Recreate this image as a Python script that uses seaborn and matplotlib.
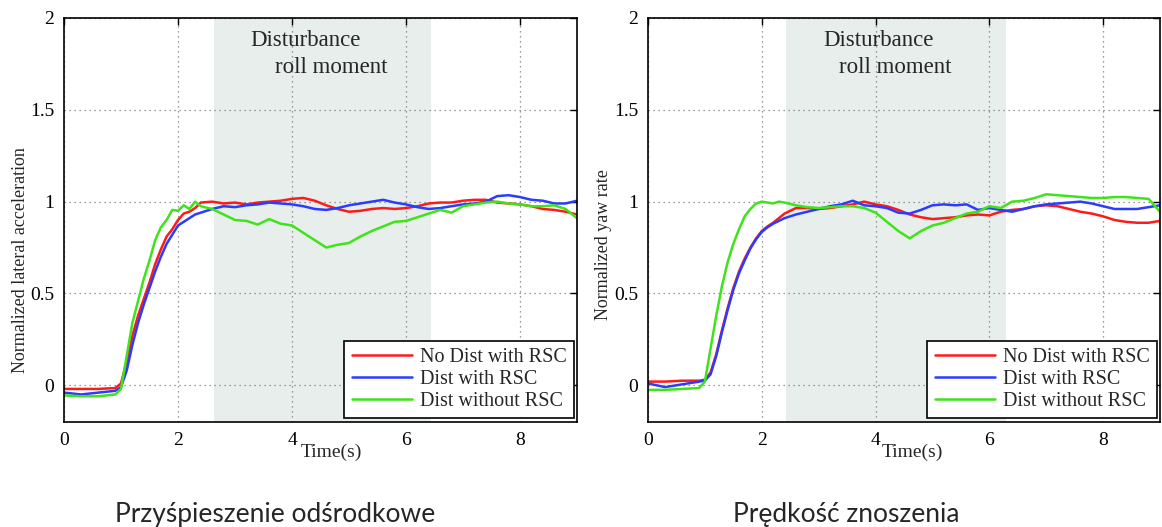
import numpy as np
import pandas as pd
import matplotlib
matplotlib.use("Agg")
import matplotlib.pyplot as plt
from matplotlib.lines import Line2D
import seaborn as sns

# ---------------- data ----------------
T = [0, 0.3, 0.6, 0.9,
     1.0, 1.1, 1.2, 1.3, 1.4, 1.5, 1.6, 1.7, 1.8, 1.9, 2.0, 2.1, 2.2, 2.3, 2.4,
     2.6, 2.8, 3.0, 3.2, 3.4, 3.6, 3.8, 4.0, 4.2, 4.4, 4.6, 4.8, 5.0, 5.2, 5.4,
     5.6, 5.8, 6.0, 6.2, 6.4, 6.6, 6.8, 7.0, 7.2, 7.4, 7.6, 7.8, 8.0, 8.2, 8.4,
     8.6, 8.8, 9.0]

SERIES = ["No Dist with RSC", "Dist with RSC", "Dist without RSC"]

# Left panel: normalized lateral acceleration
lat_nodist_rsc = [-0.02, -0.02, -0.02, -0.015,
                  0.01, 0.13, 0.27, 0.38, 0.47, 0.56, 0.66, 0.74, 0.81, 0.85, 0.90, 0.935, 0.945, 0.965, 0.995,
                  1.0, 0.99, 0.995, 0.985, 0.995, 1.0, 1.005, 1.015, 1.02, 1.005, 0.98, 0.96, 0.945, 0.95, 0.96,
                  0.965, 0.96, 0.965, 0.975, 0.99, 0.995, 0.995, 1.005, 1.01, 1.01, 0.995, 0.99, 0.985, 0.975, 0.96,
                  0.955, 0.945, 0.93]
lat_dist_rsc = [-0.04, -0.05, -0.04, -0.03,
                -0.01, 0.08, 0.22, 0.34, 0.44, 0.53, 0.62, 0.70, 0.77, 0.82, 0.87, 0.89, 0.91, 0.93, 0.94,
                0.96, 0.975, 0.97, 0.98, 0.985, 0.995, 0.99, 0.985, 0.975, 0.96, 0.955, 0.965, 0.98, 0.99, 1.0,
                1.01, 0.995, 0.985, 0.97, 0.96, 0.965, 0.975, 0.985, 0.99, 1.0, 1.03, 1.035, 1.025, 1.01, 1.005,
                0.99, 0.99, 1.005]
lat_dist_norsc = [-0.055, -0.06, -0.06, -0.05,
                  -0.02, 0.16, 0.34, 0.46, 0.58, 0.68, 0.79, 0.86, 0.90, 0.955, 0.95, 0.98, 0.96, 1.0, 0.975,
                  0.96, 0.93, 0.90, 0.895, 0.875, 0.905, 0.88, 0.87, 0.83, 0.79, 0.75, 0.765, 0.775, 0.81, 0.84,
                  0.865, 0.89, 0.895, 0.915, 0.935, 0.955, 0.94, 0.975, 0.985, 0.995, 1.0, 0.99, 0.985, 0.975, 0.975,
                  0.98, 0.96, 0.91]

# Right panel: normalized yaw rate
yaw_nodist_rsc = [0.02, 0.02, 0.025, 0.025,
                  0.03, 0.07, 0.17, 0.30, 0.42, 0.53, 0.62, 0.69, 0.75, 0.80, 0.84, 0.865, 0.885, 0.91, 0.935,
                  0.965, 0.965, 0.96, 0.965, 0.975, 0.985, 1.0, 0.985, 0.975, 0.955, 0.93, 0.915, 0.905, 0.91, 0.915,
                  0.925, 0.93, 0.925, 0.945, 0.955, 0.96, 0.975, 0.98, 0.975, 0.96, 0.945, 0.935, 0.92, 0.90, 0.89,
                  0.885, 0.885, 0.895]
yaw_dist_rsc = [0.01, -0.01, 0.005, 0.02,
                0.025, 0.06, 0.16, 0.29, 0.41, 0.52, 0.61, 0.68, 0.745, 0.795, 0.835, 0.86, 0.88, 0.895, 0.91,
                0.93, 0.945, 0.96, 0.975, 0.985, 1.005, 0.98, 0.975, 0.965, 0.94, 0.935, 0.955, 0.98, 0.985, 0.98,
                0.985, 0.955, 0.965, 0.955, 0.945, 0.96, 0.975, 0.985, 0.99, 0.995, 1.0, 0.99, 0.975, 0.96, 0.96,
                0.96, 0.97, 0.98]
yaw_dist_norsc = [-0.025, -0.025, -0.02, -0.015,
                  0.02, 0.20, 0.38, 0.54, 0.67, 0.77, 0.85, 0.92, 0.96, 0.99, 1.0, 0.995, 0.99, 1.0, 0.995,
                  0.98, 0.97, 0.965, 0.97, 0.975, 0.975, 0.965, 0.94, 0.89, 0.84, 0.80, 0.84, 0.87, 0.885, 0.91,
                  0.935, 0.945, 0.975, 0.965, 1.0, 1.005, 1.02, 1.04, 1.035, 1.03, 1.025, 1.02, 1.02, 1.025, 1.025,
                  1.02, 1.015, 0.945]

Y_LABELS = ["Normalized lateral acceleration", "Normalized yaw rate"]
CAPTIONS = ["Przyśpieszenie odśrodkowe", "Prędkość znoszenia"]
DIST_SPANS = [(2.64, 6.44), (2.43, 6.30)]
X_TICKS = [0, 2, 4, 6, 8]
Y_TICKS = [0, 0.5, 1, 1.5, 2]
Y_TICKLABELS = ["0", "0.5", "1", "1.5", "2"]

# ---------------- style ----------------
sns.set_theme(style="white")
plt.rcParams["font.family"] = ["Liberation Serif", "DejaVu Serif"]

palette = {SERIES[0]: "#ff1a1a", SERIES[1]: "#2a3cff", SERIES[2]: "#3fe31a"}

def long_df(vals):
    rows = []
    for name, v in zip(SERIES, vals):
        rows.append(pd.DataFrame({"t": T, "v": v, "series": name}))
    return pd.concat(rows, ignore_index=True)

panels = [long_df([lat_nodist_rsc, lat_dist_rsc, lat_dist_norsc]),
          long_df([yaw_nodist_rsc, yaw_dist_rsc, yaw_dist_norsc])]

fig = plt.figure(figsize=(11.62, 5.27), dpi=100)
axes_pos = [[64 / 1162, 1 - 422 / 527, 513 / 1162, 404 / 527],
            [648 / 1162, 1 - 422 / 527, 512 / 1162, 404 / 527]]
text_pos = [((4.24, 1.88), (4.68, 1.73)), ((4.05, 1.88), (4.35, 1.73))]
ylab_pos = [(21 / 1162, 1 - 260 / 527), (603 / 1162, 1 - 245 / 527)]
time_pos = [331 / 1162, 912 / 1162]
cap_x = [115 / 1162, 733 / 1162]

for i, df in enumerate(panels):
    ax = fig.add_axes(axes_pos[i])
    ax.axvspan(*DIST_SPANS[i], color="#e8eeeb", zorder=0, lw=0)
    sns.lineplot(data=df, x="t", y="v", hue="series", hue_order=SERIES,
                 palette=palette, ax=ax, linewidth=1.8, estimator=None,
                 legend=False, zorder=3)
    ax.set_xlim(0, 9)
    ax.set_ylim(-0.2, 2)
    ax.set_xticks(X_TICKS)
    ax.set_yticks(Y_TICKS)
    ax.set_yticklabels(Y_TICKLABELS)
    ax.set_xlabel("")
    ax.set_ylabel("")
    ax.grid(True, linestyle=(0, (1, 3)), color="#7a7a7a", linewidth=0.9, zorder=1)
    ax.set_axisbelow(True)
    for s in ax.spines.values():
        s.set_color("black")
        s.set_linewidth(1.2)
        s.set_zorder(5)
    ax.tick_params(direction="in", length=5, width=1, top=True, right=True,
                   labelsize=14, colors="black", pad=7)
    ax.text(*text_pos[i][0], "Disturbance", ha="center", va="center", fontsize=16.5, zorder=4)
    ax.text(*text_pos[i][1], "roll moment", ha="center", va="center", fontsize=16.5, zorder=4)

    handles = [Line2D([], [], color=palette[s], lw=1.8) for s in SERIES]
    leg = ax.legend(handles, SERIES, loc="lower right", bbox_to_anchor=(0.994, 0.01),
                    borderaxespad=0, fancybox=False, framealpha=1, edgecolor="black",
                    fontsize=14.5, handlelength=3.0, handletextpad=0.4,
                    labelspacing=0.15, borderpad=0.35)
    leg.get_frame().set_linewidth(1.2)
    leg.set_zorder(6)

    fig.text(*ylab_pos[i], Y_LABELS[i], rotation=90, ha="center", va="center", fontsize=13)
    fig.text(time_pos[i], 1 - 452 / 527, "Time(s)", ha="center", va="center", fontsize=14)
    fig.text(cap_x[i], 1 - 522 / 527, CAPTIONS[i], ha="left", va="baseline",
             fontsize=19, family=["Lato", "DejaVu Sans"])

fig.savefig("out.png", dpi=100, facecolor="white")
